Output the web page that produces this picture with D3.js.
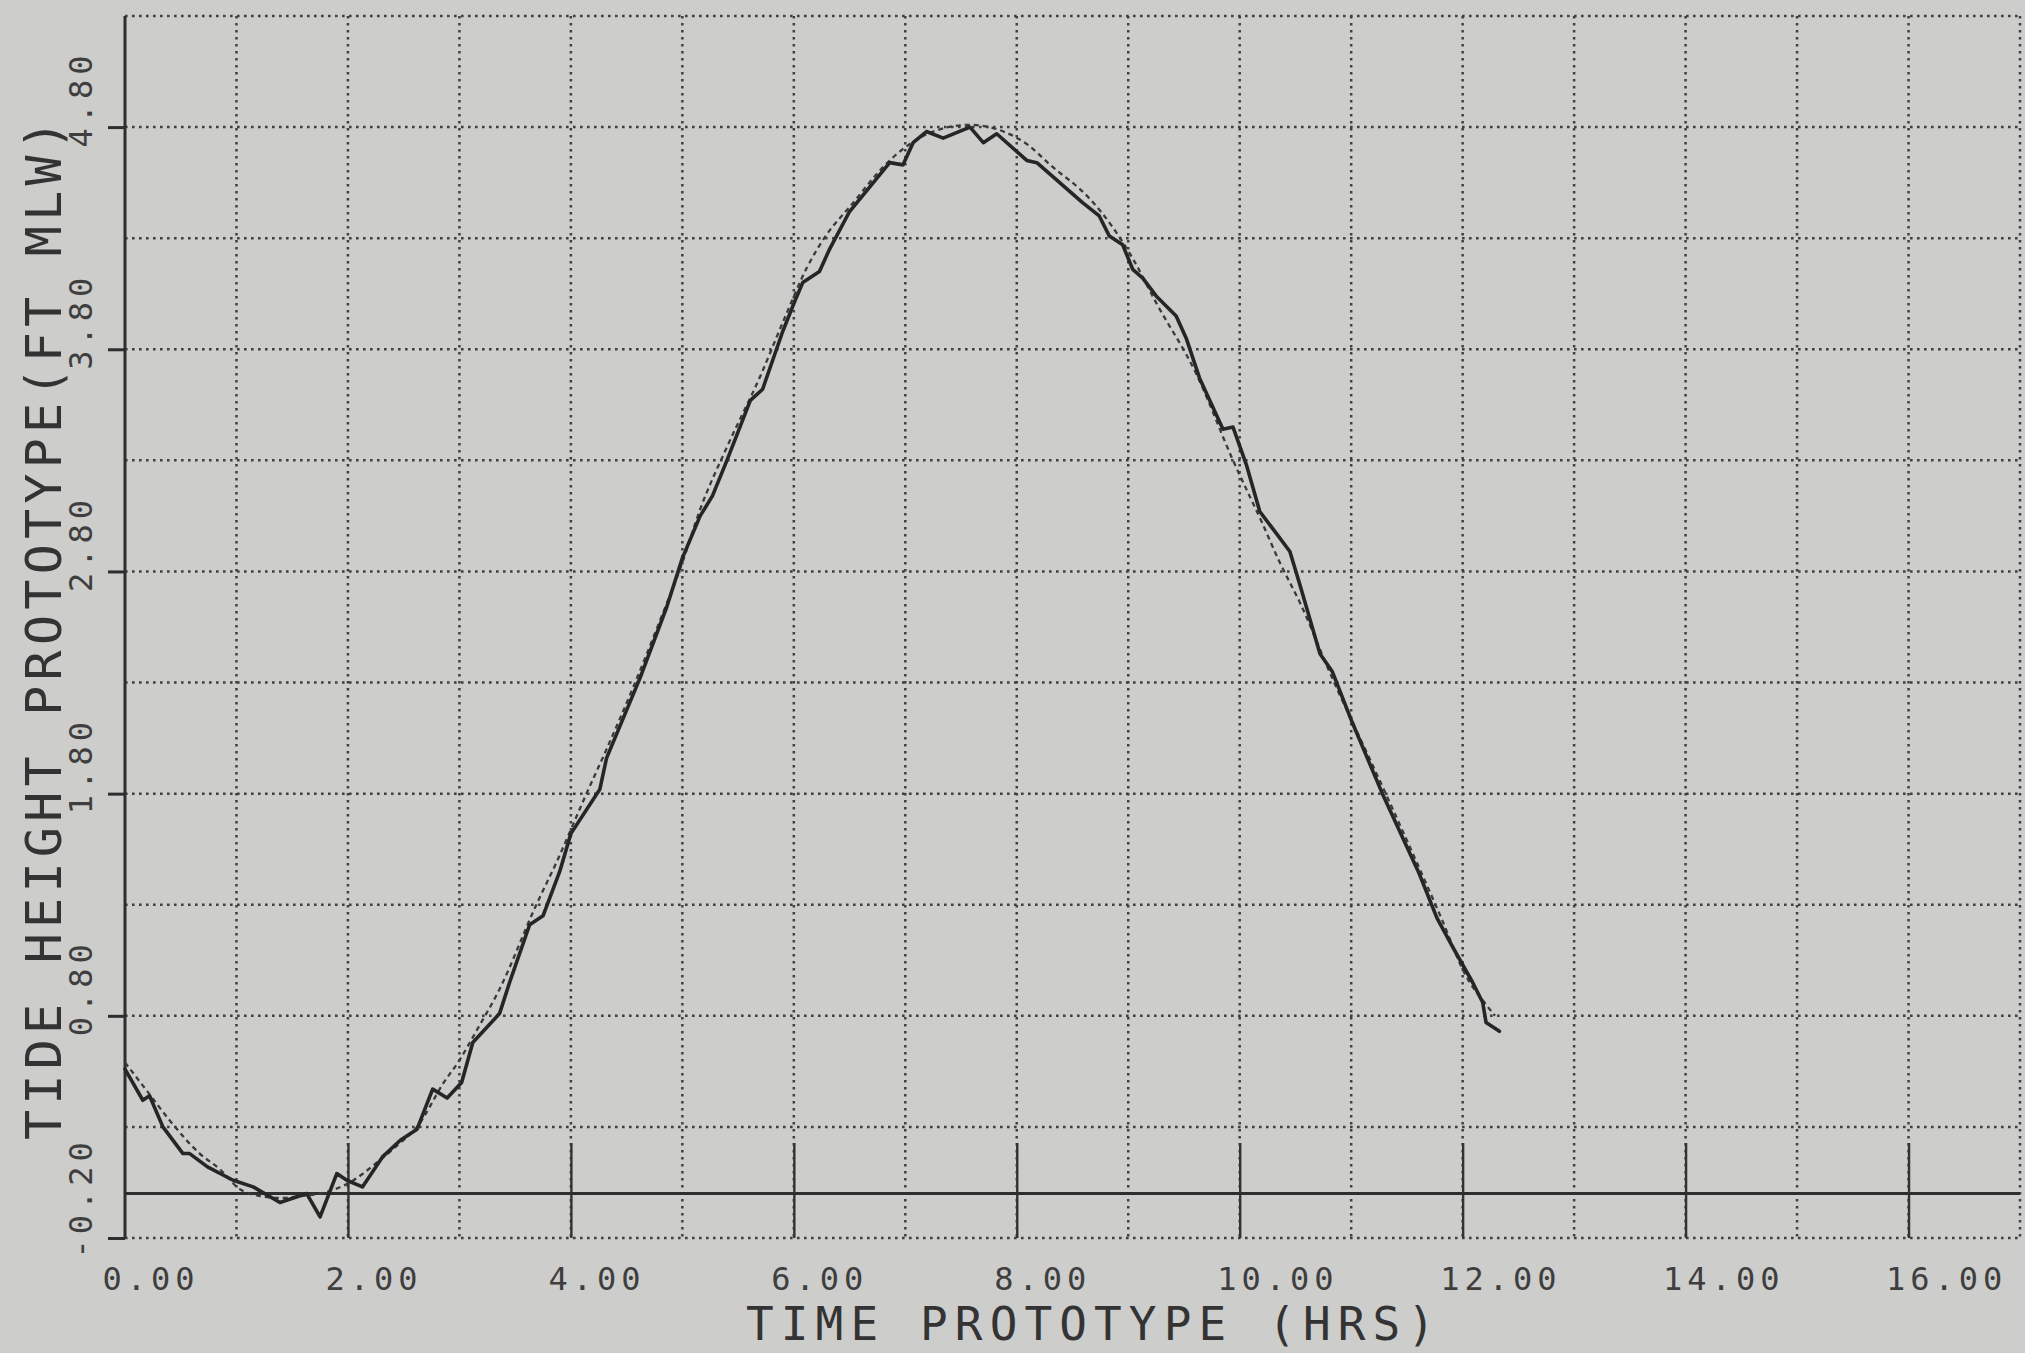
<!DOCTYPE html>
<html>
<head>
<meta charset="utf-8">
<script src="https://cdn.jsdelivr.net/npm/d3@7"></script>
<style>
  html, body { margin: 0; padding: 0; background: #cdcdcb; }
  svg { display: block; }
  text { font-family: "DejaVu Sans Mono", "Liberation Mono", monospace; fill: #3a3a3a; }
</style>
</head>
<body>
<script>
// ---------- data ----------
const xTickValues = [0, 2, 4, 6, 8, 10, 12, 14, 16];
const xTickLabels = ["0.00", "2.00", "4.00", "6.00", "8.00", "10.00", "12.00", "14.00", "16.00"];
const yTickValues = [-0.2, 0.8, 1.8, 2.8, 3.8, 4.8];
const yTickLabels = ["-0.20", "0.80", "1.80", "2.80", "3.80", "4.80"];
const xTitle = "TIME PROTOTYPE (HRS)";
const yTitle = "TIDE HEIGHT PROTOTYPE(FT MLW)";

// measured (solid, jagged) curve
const measuredTime = [0.00, 0.16, 0.22, 0.34, 0.52, 0.58, 0.74, 0.97, 1.15, 1.39, 1.63, 1.75, 1.90, 1.99, 2.13,
  2.31, 2.47, 2.62, 2.76, 2.89, 3.02, 3.12, 3.36, 3.45, 3.63, 3.75, 3.90, 4.00, 4.26, 4.32, 4.62, 4.86, 5.00,
  5.16, 5.27, 5.40, 5.61, 5.72, 5.90, 6.02, 6.08, 6.23, 6.32, 6.50, 6.86, 6.98, 7.07, 7.19, 7.34, 7.58, 7.70,
  7.82, 8.09, 8.18, 8.59, 8.74, 8.83, 8.95, 9.04, 9.13, 9.25, 9.43, 9.52, 9.64, 9.85, 9.94, 10.06, 10.18, 10.33,
  10.45, 10.54, 10.72, 10.83, 11.01, 11.28, 11.61, 11.77, 11.91, 12.09, 12.18, 12.21, 12.33];
const measuredHeight = [0.56, 0.42, 0.44, 0.30, 0.18, 0.18, 0.12, 0.06, 0.03, -0.04, 0.00, -0.105, 0.09, 0.06, 0.03,
  0.165, 0.24, 0.29, 0.47, 0.43, 0.50, 0.68, 0.81, 0.95, 1.21, 1.25, 1.45, 1.62, 1.82, 1.96, 2.32, 2.64, 2.86,
  3.05, 3.14, 3.30, 3.57, 3.62, 3.88, 4.03, 4.10, 4.15, 4.25, 4.42, 4.64, 4.63, 4.73, 4.78, 4.75, 4.80, 4.73,
  4.77, 4.65, 4.64, 4.46, 4.40, 4.31, 4.27, 4.16, 4.12, 4.04, 3.95, 3.85, 3.67, 3.44, 3.45, 3.28, 3.07, 2.97,
  2.89, 2.74, 2.43, 2.35, 2.12, 1.80, 1.44, 1.24, 1.11, 0.95, 0.86, 0.77, 0.73];

// prototype (dashed, smooth) curve
const prototypeTime = [0.00, 0.20, 0.40, 0.67, 0.85, 1.03, 1.20, 1.39, 1.60, 1.75, 2.05, 2.26, 2.45, 2.62, 2.86,
  3.00, 3.15, 3.36, 3.69, 3.87, 4.14, 4.32, 4.56, 4.80, 5.00, 5.16, 5.40, 5.70, 5.90, 6.12, 6.30, 6.50, 6.86,
  7.25, 7.58, 7.88, 8.10, 8.30, 8.65, 8.86, 9.05, 9.25, 9.61, 9.94, 10.20, 10.36, 10.54, 10.83, 11.20, 11.58,
  11.80, 12.04, 12.18, 12.29];
const prototypeHeight = [0.59, 0.46, 0.33, 0.18, 0.11, 0.02, -0.01, -0.02, -0.01, 0.00, 0.06, 0.14, 0.22, 0.30, 0.50,
  0.60, 0.73, 0.92, 1.30, 1.49, 1.80, 2.00, 2.28, 2.58, 2.84, 3.08, 3.36, 3.68, 3.92, 4.17, 4.32, 4.44, 4.65,
  4.78, 4.81, 4.78, 4.72, 4.63, 4.48, 4.35, 4.20, 4.01, 3.69, 3.30, 3.02, 2.84, 2.66, 2.32, 1.92, 1.50,
  1.25, 0.97, 0.87, 0.80];

const referenceLevel = [0.0];

// ---------- layout ----------
const W = 2025, H = 1353;
const plotLeft = 125, plotRight = 2020, plotTop = 16, plotBottom = 1238;

const svg = d3.select("body").append("svg").attr("width", W).attr("height", H);
svg.append("rect").attr("width", W).attr("height", H).attr("fill", "#cdcdcb");

const x = d3.scaleLinear().domain([0, 17]).range([plotLeft, plotRight]);
const y = d3.scaleLinear().domain([-0.2, 5.3]).range([plotBottom, plotTop]);

const gridColor = "#404040";
const dots = "2.6 4.4";

// horizontal dotted grid (every 0.5 ft)
const hGrid = d3.range(0, 12).map(i => -0.2 + 0.5 * i);
svg.append("g").selectAll("line").data(hGrid).join("line")
  .attr("x1", plotLeft).attr("x2", plotRight)
  .attr("y1", d => y(d)).attr("y2", d => y(d))
  .attr("stroke", gridColor).attr("stroke-width", 2.5).attr("stroke-dasharray", dots);

// vertical dotted grid (every hour)
const vGrid = d3.range(1, 18, 1);
svg.append("g").selectAll("line").data(vGrid).join("line")
  .attr("x1", d => x(d)).attr("x2", d => x(d))
  .attr("y1", plotTop).attr("y2", plotBottom)
  .attr("stroke", gridColor).attr("stroke-width", 2.5).attr("stroke-dasharray", dots);

// inner solid ticks at even hours
const innerTicks = svg.append("g").attr("transform", `translate(0,${plotBottom})`)
  .call(d3.axisBottom(x).tickValues(xTickValues.slice(1)).tickSize(-95).tickFormat(""));
innerTicks.select(".domain").remove();
innerTicks.selectAll("line").attr("stroke", "#333").attr("stroke-width", 2.4);

// x axis labels
const xAxis = svg.append("g").attr("transform", `translate(0,${plotBottom})`)
  .call(d3.axisBottom(x).tickValues(xTickValues).tickSize(0).tickFormat((d, i) => xTickLabels[i]));
xAxis.select(".domain").remove();
xAxis.selectAll("text")
  .attr("x", -23).attr("y", 52).attr("dy", null)
  .attr("text-anchor", "start")
  .style("font-family", '"DejaVu Sans Mono", monospace')
  .style("font-size", "32px").style("letter-spacing", "5px").style("fill", "#3e3e3e");

// y axis (solid line + outward ticks + rotated labels)
const yAxis = svg.append("g").attr("transform", `translate(${plotLeft},0)`)
  .call(d3.axisLeft(y).tickValues(yTickValues).tickSize(17).tickFormat((d, i) => yTickLabels[i]));
yAxis.select(".domain").attr("stroke", "#2e2e2e").attr("stroke-width", 3)
  .attr("d", `M0,${plotTop}V${plotBottom}`);
yAxis.selectAll("line").attr("stroke", "#2e2e2e").attr("stroke-width", 3);
yAxis.selectAll("text")
  .attr("x", 0).attr("y", 0).attr("dy", null)
  .attr("text-anchor", "start")
  .attr("transform", "translate(-33,20) rotate(-90)")
  .style("font-family", '"DejaVu Sans Mono", monospace')
  .style("font-size", "32px").style("letter-spacing", "5px").style("fill", "#3e3e3e");

// zero reference line
svg.append("g").selectAll("line").data(referenceLevel).join("line")
  .attr("x1", plotLeft).attr("x2", plotRight)
  .attr("y1", d => y(d)).attr("y2", d => y(d))
  .attr("stroke", "#2e2e2e").attr("stroke-width", 3);

// curves
const protoData = prototypeTime.map((t, i) => [t, prototypeHeight[i]]);
const measData = measuredTime.map((t, i) => [t, measuredHeight[i]]);

svg.append("path").datum(protoData)
  .attr("fill", "none").attr("stroke", "#3a3a3a").attr("stroke-width", 2.3)
  .attr("stroke-dasharray", "5 4")
  .attr("d", d3.line().x(d => x(d[0])).y(d => y(d[1])).curve(d3.curveMonotoneX));

svg.append("path").datum(measData)
  .attr("fill", "none").attr("stroke", "#262626").attr("stroke-width", 3.6)
  .attr("stroke-linejoin", "round").attr("stroke-linecap", "round")
  .attr("d", d3.line().x(d => x(d[0])).y(d => y(d[1])));

// titles
svg.append("text")
  .attr("x", 746).attr("y", 1340)
  .attr("textLength", 689).attr("lengthAdjust", "spacing")
  .style("font-size", "46px").style("fill", "#333")
  .text(xTitle);

svg.append("text")
  .attr("transform", "translate(61,1140) rotate(-90)")
  .attr("x", 0).attr("y", 0)
  .attr("textLength", 1020).attr("lengthAdjust", "spacing")
  .style("font-size", "50px").style("fill", "#333")
  .text(yTitle);
</script>
</body>
</html>
